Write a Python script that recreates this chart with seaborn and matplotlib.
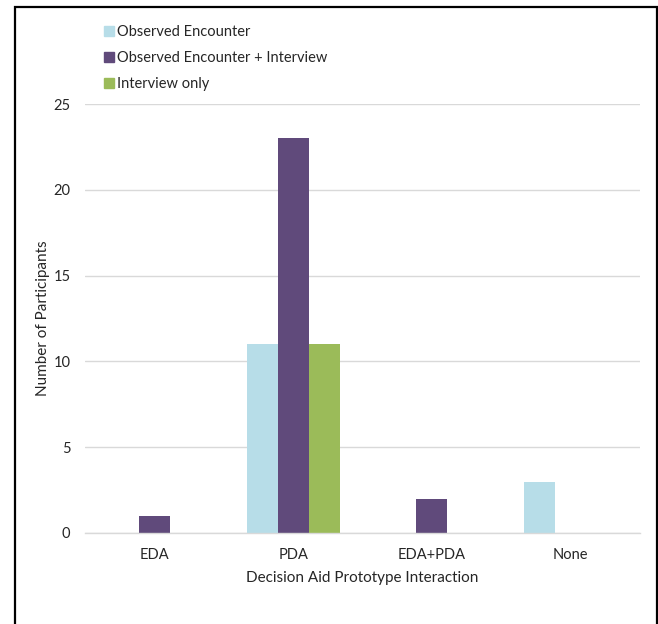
import matplotlib
matplotlib.use("Agg")
import matplotlib.pyplot as plt
import matplotlib.patches as mpatches
import seaborn as sns
import pandas as pd

categories = ["EDA", "PDA", "EDA+PDA", "None"]
series_names = ["Observed Encounter", "Observed Encounter + Interview", "Interview only"]
observed = [0, 11, 0, 3]
observed_interview = [1, 23, 2, 0]
interview_only = [0, 11, 0, 0]
colors = ["#b7dde8", "#604a7b", "#9bbb59"]
y_ticks = [0, 5, 10, 15, 20, 25]

rows = []
for name, vals in zip(series_names, [observed, observed_interview, interview_only]):
    for c, v in zip(categories, vals):
        rows.append({"cat": c, "series": name, "value": v})
df = pd.DataFrame(rows)

sns.set_theme(style="white")
plt.rcParams["font.family"] = ["Lato", "DejaVu Sans"]

fig = plt.figure(figsize=(6.58, 6.24), dpi=100)
ax = fig.add_axes([85/658, 1-533/624, (640-85)/658, (533-104)/624])

sns.barplot(data=df, x="cat", y="value", hue="series", order=categories,
            hue_order=series_names, palette=colors, width=0.67, saturation=1,
            ax=ax, legend=False, linewidth=0)

ax.set_ylim(0, 25)
ax.set_yticks(y_ticks)
ax.yaxis.grid(True, color="#d9d9d9", linewidth=1)
ax.set_axisbelow(True)
for s in ["top", "right", "left"]:
    ax.spines[s].set_visible(False)
ax.spines["bottom"].set_color("#d9d9d9")
ax.spines["bottom"].set_linewidth(1)
ax.tick_params(axis="both", length=0, labelsize=10.5, colors="#262626")
ax.tick_params(axis="x", pad=11)
ax.tick_params(axis="y", pad=10.5)
ax.set_xlabel("Decision Aid Prototype Interaction", fontsize=11, color="#262626", labelpad=6)
ax.set_ylabel("Number of Participants", fontsize=11, color="#262626")
ax.yaxis.set_label_coords((50-85)/555, 0.5)

handles = [mpatches.Patch(color=c, label=n) for c, n in zip(colors, series_names)]
fig.legend(handles=handles, loc="upper left", bbox_to_anchor=(91/658, 1-12/624),
           frameon=False, fontsize=10.5, handlelength=0.7, handleheight=0.7,
           handletextpad=0.15, labelspacing=0.82, labelcolor="#262626")

border = mpatches.Rectangle((15/658, -0.05), (657-15)/658, 1-7/624+0.05,
                            transform=fig.transFigure, fill=False,
                            edgecolor="black", linewidth=1.6, clip_on=False)
fig.patches.append(border)

fig.savefig("out.png", dpi=100)
